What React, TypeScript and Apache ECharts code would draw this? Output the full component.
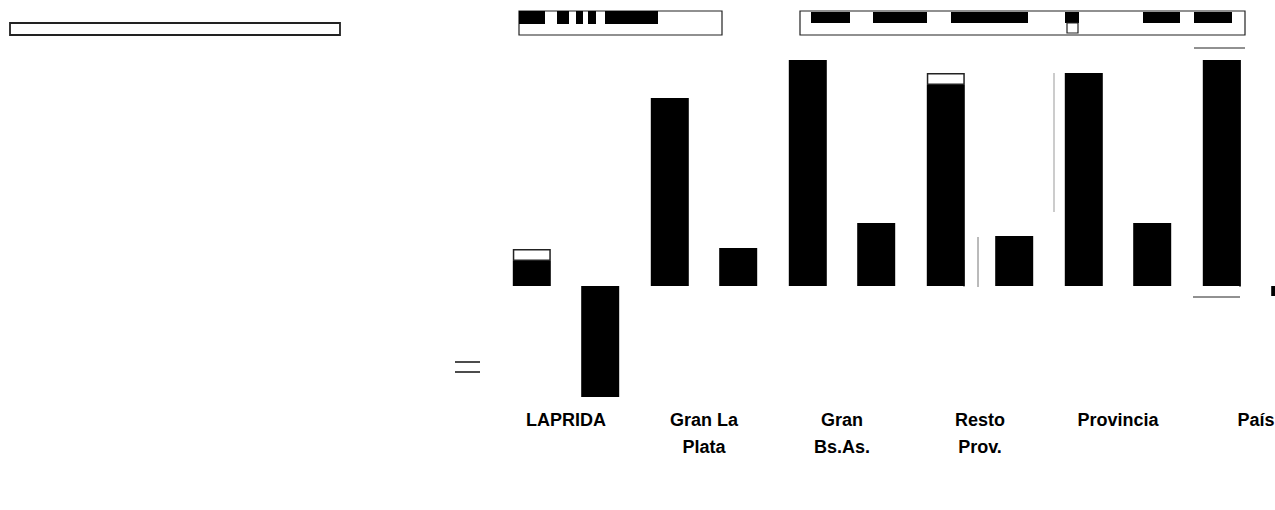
import React, { useEffect, useRef } from "react";
import * as echarts from "echarts";

const categories = ["LAPRIDA", "Gran La\nPlata", "Gran\nBs.As.", "Resto\nProv.", "Provincia", "País"];
const seriesA = [2.5, 18.8, 22.6, 20.1, 21.3, 22.6];
const seriesATop = [1.2, null, null, 1.2, null, null];
const seriesB = [-11.1, 3.8, 6.3, 5.0, 6.3, -1.0];

export default function App() {
  const ref = useRef<HTMLDivElement>(null);
  useEffect(() => {
    if (!ref.current) return;
    const chart = echarts.init(ref.current, null, { renderer: "svg" });
    const blk = (x: number, y: number, w: number, h: number) => ({
      type: "rect",
      shape: { x, y, width: w, height: h },
      style: { fill: "#000" },
      silent: true,
    });
    const box = (x: number, y: number, w: number, h: number, lw = 1.2) => ({
      type: "rect",
      shape: { x, y, width: w, height: h },
      style: { fill: "none", stroke: "#222", lineWidth: lw },
      silent: true,
    });
    const ln = (x1: number, y1: number, x2: number, y2: number, c = "#111", lw = 1.5) => ({
      type: "line",
      shape: { x1, y1, x2, y2 },
      style: { stroke: c, lineWidth: lw },
      silent: true,
    });
    chart.setOption({
      animation: false,
      backgroundColor: "#fff",
      grid: { left: 497, width: 828, top: 46, height: 360, containLabel: false },
      xAxis: {
        type: "category",
        data: categories,
        axisLine: { show: false },
        axisTick: { show: false },
        axisLabel: {
          interval: 0,
          color: "#000",
          fontWeight: "bold",
          fontSize: 18,
          lineHeight: 27,
          fontFamily: "Liberation Sans, Arial, sans-serif",
          margin: 0,
        },
      },
      yAxis: {
        type: "value",
        min: -12,
        max: 24,
        show: false,
        splitLine: { show: false },
      },
      series: [
        {
          type: "bar",
          name: "A",
          stack: "a",
          data: seriesA,
          barWidth: 38,
          barGap: "80%",
          itemStyle: { color: "#000" },
        },
        {
          type: "bar",
          name: "A2",
          stack: "a",
          data: seriesATop,
          barWidth: 38,
          itemStyle: { color: "#fff", borderColor: "#222", borderWidth: 1.5 },
        },
        {
          type: "bar",
          name: "B",
          data: seriesB,
          barWidth: 38,
          barGap: "80%",
          itemStyle: { color: "#000" },
        },
      ],
      graphic: [
        box(10, 23, 330, 12, 1.8),
        box(519, 11, 203, 24),
        blk(519, 11, 26, 13),
        blk(557, 11, 12, 13),
        blk(576, 11, 7, 13),
        blk(588, 11, 8, 13),
        blk(605, 11, 53, 13),
        box(800, 11, 445, 24),
        blk(811, 12, 39, 11),
        blk(873, 12, 54, 11),
        blk(951, 12, 77, 11),
        blk(1065, 12, 14, 11),
        box(1067, 23, 11, 10),
        blk(1143, 12, 37, 11),
        blk(1194, 12, 38, 11),
        ln(455, 362, 480, 362),
        ln(455, 372, 480, 372),
        ln(1194, 48, 1245, 48, "#222", 1),
        ln(1193, 297, 1240, 297, "#222", 1),
        ln(1240, 60, 1240, 287, "#222", 1),
        ln(964, 260, 964, 287, "#777", 1),
        ln(978, 237, 978, 287, "#777", 1),
        ln(1054, 73, 1054, 212, "#999", 1),
      ],
    });
    return () => chart.dispose();
  }, []);
  return (
    <div style={{ position: "fixed", left: 0, top: 0, width: 1275, height: 510, overflow: "hidden", background: "#fff" }}>
      <div ref={ref} style={{ width: 1340, height: 510 }} />
    </div>
  );
}
